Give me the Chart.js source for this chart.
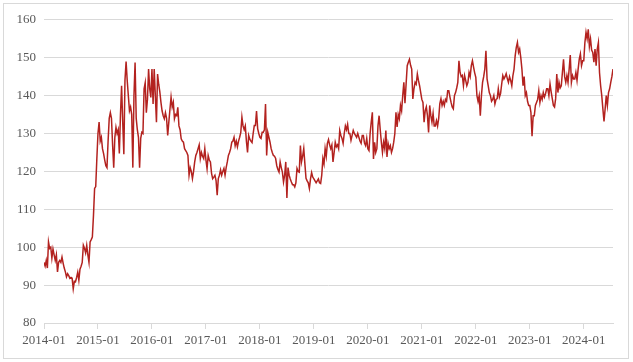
<!DOCTYPE html>
<html>
<head>
<meta charset="utf-8">
<script src="https://cdn.jsdelivr.net/npm/chart.js@4.4.1/dist/chart.umd.min.js"></script>
<style>
html, body { margin: 0; padding: 0; background: #fff; }
#box { position: absolute; left: 3px; top: 3px; width: 624px; height: 354px; border: 1px solid #d9d9d9; }
</style>
</head>
<body>
<div id="box"><canvas id="cv"></canvas></div>
<script>
// weekly readings, 4 per month, one array per year
let y2014 = [96, 95, 96.5, 94.5, 101.4, 99.7, 100, 97.1, 99.5, 98, 96.5, 98,
    93.5, 96, 96.5, 96, 97.4, 95.8, 94.5, 93.5, 92.2, 93, 92.5, 91.8,
    92, 91.8, 89, 91, 90.9, 92, 93.4, 91.3, 94.2, 95, 96, 100.5,
    99.7, 98.5, 100.5, 98, 96, 101.4, 102, 102.7, 108.4, 115.5, 116, 123.4];
let y2015 = [130, 133, 128, 129, 126, 124.7, 123, 121.5, 121, 128, 134, 135.5,
    134, 127, 121, 129, 131.6, 130, 131, 124.7, 135, 142.6, 133, 124.5,
    144, 149, 144, 140, 136, 137, 135, 121, 140, 148.7, 134, 131,
    129, 121, 128.7, 130.3, 130, 141.8, 143.4, 135.5, 139, 147, 141.8, 139.5];
let y2016 = [147, 137.8, 147, 140, 133, 145.7, 143, 141, 138.2, 136, 134.7, 133.9,
    135.5, 134, 129.5, 133, 136.4, 139.6, 137, 138.2, 133.9, 135, 134.7, 136.9,
    132, 131, 128.6, 128, 127.7, 126, 125.5, 125, 124.2, 119, 121, 120,
    118.1, 120, 122.5, 124.2, 125, 126, 127, 123.4, 125, 124, 123.4, 126];
let y2017 = [123, 120.7, 124.2, 123, 122.5, 119.5, 118.1, 118.5, 119, 117.6, 113.7, 118.1,
    119, 120.4, 119, 120, 120.8, 119, 121, 122.5, 124.2, 125, 126, 127.7,
    128, 129, 126.8, 128, 126.5, 128, 129, 130.3, 134.3, 132, 131, 132,
    128, 125, 129.5, 128.5, 128, 127.6, 130, 132.1, 132.1, 135.9, 131.3, 130];
let y2018 = [129, 128.7, 130.3, 130.3, 131, 137.8, 124.2, 130.3, 129, 127.7, 126, 125,
    124.2, 124, 123.4, 121.5, 120.5, 119.8, 122.5, 121, 119.8, 117.2, 119, 122.5,
    113, 121, 119, 118, 117.2, 116.5, 116.5, 115.9, 117, 120.8, 120, 119.8,
    126.8, 122.5, 124, 126, 122, 118.2, 117.5, 117, 115.5, 118, 119.7, 118.5];
let y2019 = [118, 117.5, 117, 117.5, 118, 117, 116.8, 119, 123.4, 122, 126, 124,
    127.4, 128.4, 127, 126, 127, 122.5, 125, 127.7, 126.5, 127, 126, 130.8,
    129.5, 128.7, 127.4, 130, 132, 131, 132.4, 130, 130, 128.2, 129.5, 130.8,
    130, 129.5, 129, 130, 129, 128, 127.4, 129.5, 129.5, 127.5, 126.8, 128.7];
let y2020 = [126, 125.5, 130, 133, 135.6, 123.3, 127.7, 125, 126, 132, 134.7, 131,
    127.7, 125, 127.7, 126, 130.8, 123.8, 127.4, 126, 126.8, 125, 126, 127.7,
    130, 135.6, 131.7, 135, 133.9, 137.4, 136, 140, 143.5, 138, 143, 147.9,
    148.8, 149.6, 148, 147, 139.1, 141.8, 143.5, 143, 145.7, 144, 142.6, 140.8];
let y2021 = [139, 138.2, 133, 136, 137, 134.7, 130.3, 137.4, 134.7, 133, 135.3, 132,
    132, 133.4, 132, 134, 137.9, 139.2, 137.4, 138.5, 137.4, 139, 138.5, 141.3,
    141.3, 139.6, 138.2, 137, 136.5, 140, 140.8, 142, 143.5, 149.2, 146.1, 145,
    145.3, 142.6, 145.3, 144, 142.6, 143.5, 146.1, 145, 147.9, 149.2, 147.5, 146];
let y2022 = [144.8, 140, 138.5, 140, 134.7, 140, 143.5, 145, 147, 151.8, 144.4, 142.6,
    140.8, 140, 138.5, 139, 140, 137.8, 139, 139.2, 141.8, 139.6, 140.5, 143,
    145.3, 144.4, 145, 145.8, 144.5, 143.5, 145, 144, 142.6, 145.3, 147, 150.5,
    152.7, 154, 151.4, 152.3, 150, 147, 142.6, 145, 140, 140.8, 138.5, 137.4];
let y2023 = [137.4, 135.6, 129.3, 134.7, 134.7, 137.4, 138.2, 139, 141.3, 138.2, 140, 139,
    140.8, 139.6, 140.5, 141.8, 141.8, 140, 143.1, 141, 139.2, 137.4, 137, 139.2,
    145.7, 140.8, 143.5, 142, 142.6, 146.1, 149.6, 145, 143.5, 145.3, 143.5, 147,
    150.7, 143.5, 145.3, 144.4, 144.4, 146.1, 144, 147, 149.6, 151, 147.9, 149.2];
let y2024 = [149.2, 154, 156.7, 155, 157.5, 153, 155, 152, 151.4, 148.8, 152.3, 147.9,
    152.3, 154, 146.1, 142.6, 140, 136.5, 133.2, 136.5, 140, 137.4, 140.8, 141.8,
    143.5, 145, 147];

let years = [2014, 2015, 2016, 2017, 2018, 2019, 2020, 2021, 2022, 2023, 2024];
let yearData = [y2014, y2015, y2016, y2017, y2018, y2019, y2020, y2021, y2022, y2023, y2024];
let yTicks = [80, 90, 100, 110, 120, 130, 140, 150, 160];

// x in months since 2014-01
let points = [];
for (let i = 0; i < yearData.length; i++) {
    for (let j = 0; j < yearData[i].length; j++) {
        points.push({x: i * 12 + j / 4, y: yearData[i][j]});
    }
}
let lastX = points[points.length - 1].x;

Chart.defaults.font.family = "'Liberation Serif', 'Times New Roman', serif";
Chart.defaults.font.size = 13;
Chart.defaults.color = '#595959';

let ctx = document.getElementById('cv').getContext('2d');
new Chart(ctx, {
    type: 'line',
    data: {
        datasets: [{
            data: points,
            borderColor: '#b3221f',
            borderWidth: 1.5,
            pointRadius: 0,
            tension: 0,
            fill: false
        }]
    },
    options: {
        responsive: true,
        maintainAspectRatio: false,
        animation: false,
        parsing: false,
        layout: {padding: {left: 0, right: 15, top: 15, bottom: 0}},
        plugins: {legend: {display: false}, tooltip: {enabled: false}},
        scales: {
            x: {
                type: 'linear',
                min: 0,
                max: lastX,
                grid: {drawOnChartArea: false, drawTicks: true, tickLength: 6, color: '#d9d9d9'},
                border: {display: true, color: '#d9d9d9'},
                ticks: {
                    stepSize: 12,
                    includeBounds: false,
                    autoSkip: false,
                    maxRotation: 0,
                    padding: 4,
                    callback: function (v) {
                        let k = v / 12;
                        return Number.isInteger(k) ? years[k] + '-01' : '';
                    }
                },
                afterFit: function (s) { s.height = 35; }
            },
            y: {
                min: yTicks[0],
                max: yTicks[yTicks.length - 1],
                grid: {color: '#d9d9d9', drawTicks: false},
                border: {display: false},
                ticks: {stepSize: 10, padding: 8},
                afterFit: function (s) { s.width = 40; }
            }
        }
    }
});
</script>
</body>
</html>
